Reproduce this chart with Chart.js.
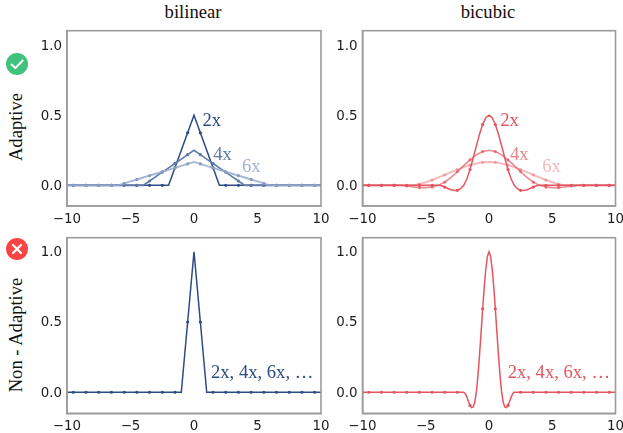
<!DOCTYPE html>
<html><head><meta charset="utf-8">
<script src="https://cdn.jsdelivr.net/npm/chart.js@4"></script>
<style>
html,body{margin:0;padding:0;background:#fff;}
#stage{position:relative;width:623px;height:433px;overflow:hidden;}
canvas{position:absolute;display:block;}
.t{position:absolute;font-family:"Liberation Serif",serif;font-size:18.6px;color:#111;white-space:nowrap;line-height:1;}
.r{transform:translate(-50%,-50%) rotate(-90deg);}
.c{transform:translate(-50%,-50%);}
svg{position:absolute;}
</style></head><body>
<div id="stage">
<div class="t c" style="left:193px;top:12px">bilinear</div>
<div class="t c" style="left:488px;top:12px">bicubic</div>
<div class="t r" style="left:16px;top:127px">Adaptive</div>
<div class="t r" style="left:16px;top:335px">Non - Adaptive</div>
<svg style="left:5px;top:52px" width="24" height="24" viewBox="0 0 24 24"><circle cx="12" cy="12" r="11" fill="#3EC27C"/><path d="M6.5 12.5l3.8 3.6 7.4-7.6" fill="none" stroke="#fff" stroke-width="2" stroke-linecap="round" stroke-linejoin="round"/></svg>
<svg style="left:5px;top:237px" width="24" height="24" viewBox="0 0 24 24"><circle cx="12" cy="12" r="11" fill="#FB4444"/><path d="M8 8l8 8M16 8l-8 8" fill="none" stroke="#fff" stroke-width="2.2" stroke-linecap="round"/></svg>
</div>
<script>
const xHalf = [-10,-9.5,-9,-8.5,-8,-7.5,-7,-6.5,-6,-5.5,-5,-4.5,-4,-3.5,-3,-2.5,-2,-1.5,-1,-0.5,0,0.5,1,1.5,2,2.5,3,3.5,4,4.5,5,5.5,6,6.5,7,7.5,8,8.5,9,9.5,10];
const bilinear2x = [0,0,0,0,0,0,0,0,0,0,0,0,0,0,0,0,0,0.125,0.25,0.375,0.5,0.375,0.25,0.125,0,0,0,0,0,0,0,0,0,0,0,0,0,0,0,0,0];
const bilinear4x = [0,0,0,0,0,0,0,0,0,0,0,0,0,0.031,0.0625,0.094,0.125,0.156,0.1875,0.219,0.25,0.219,0.1875,0.156,0.125,0.094,0.0625,0.031,0,0,0,0,0,0,0,0,0,0,0,0,0];
const bilinear6x = [0,0,0,0,0,0,0,0,0,0.014,0.028,0.042,0.056,0.069,0.083,0.097,0.111,0.125,0.139,0.153,0.167,0.153,0.139,0.125,0.111,0.097,0.083,0.069,0.056,0.042,0.028,0.014,0,0,0,0,0,0,0,0,0];
const bilinearNon = [0,0,0,0,0,0,0,0,0,0,0,0,0,0,0,0,0,0,0,0.5,1,0.5,0,0,0,0,0,0,0,0,0,0,0,0,0,0,0,0,0,0,0];
const xBicubic2x = [-10,-9.5,-9,-8.5,-8,-7.5,-7,-6.5,-6,-5.5,-5,-4.5,-4,-3.75,-3.5,-3.25,-3,-2.75,-2.5,-2.25,-2,-1.75,-1.5,-1.25,-1,-0.75,-0.5,-0.25,0,0.25,0.5,0.75,1,1.25,1.5,1.75,2,2.25,2.5,2.75,3,3.25,3.5,3.75,4,4.5,5,5.5,6,6.5,7,7.5,8,8.5,9,9.5,10];
const bicubic2x = [0,0,0,0,0,0,0,0,0,0,0,0,0,-0.003,-0.012,-0.022,-0.031,-0.036,-0.035,-0.024,0,0.045,0.113,0.195,0.281,0.364,0.434,0.482,0.5,0.482,0.434,0.364,0.281,0.195,0.113,0.045,0,-0.024,-0.035,-0.036,-0.031,-0.022,-0.012,-0.003,0,0,0,0,0,0,0,0,0,0,0,0,0];
const bicubic4x = [0,0,0,0,0,0,0,-0.004,-0.012,-0.016,-0.016,-0.012,0,0.023,0.057,0.097,0.141,0.182,0.217,0.241,0.25,0.241,0.217,0.182,0.141,0.097,0.057,0.023,0,-0.012,-0.016,-0.016,-0.012,-0.004,0,0,0,0,0,0,0];
const bicubic6x = [0,0,0,0,0,0,0,0,0,0.009,0.022,0.038,0.056,0.0745,0.094,0.112,0.130,0.1445,0.156,0.164,0.167,0.164,0.156,0.1445,0.130,0.112,0.094,0.0745,0.056,0.038,0.022,0.009,0,0,0,0,0,0,0,0,0];
const xBicubicNon = [-10,-9.5,-9,-8.5,-8,-7.5,-7,-6.5,-6,-5.5,-5,-4.5,-4,-3.5,-3,-2.5,-2,-1.875,-1.75,-1.625,-1.5,-1.375,-1.25,-1.125,-1,-0.875,-0.75,-0.625,-0.5,-0.375,-0.25,-0.125,0,0.125,0.25,0.375,0.5,0.625,0.75,0.875,1,1.125,1.25,1.375,1.5,1.625,1.75,1.875,2,2.5,3,3.5,4,4.5,5,5.5,6,6.5,7,7.5,8,8.5,9,9.5,10];
const bicubicNon = [0,0,0,0,0,0,0,0,0,0,0,0,0,0,0,0,0,-0.010,-0.035,-0.066,-0.094,-0.110,-0.105,-0.072,0,0.115,0.262,0.426,0.594,0.7495,0.879,0.967,1,0.967,0.879,0.7495,0.594,0.426,0.262,0.115,0,-0.072,-0.105,-0.110,-0.094,-0.066,-0.035,-0.010,0,0,0,0,0,0,0,0,0,0,0,0,0,0,0,0,0];
const xTicks = [-10,-5,0,5,10];
const yTicks = [0,0.5,1];
const BLUE='#2B4C84', BLUE4='#5F7BA8', BLUE6='rgba(150,170,204,0.85)', RED='#E4555F', RED4='rgba(228,85,95,0.7)', RED6='rgba(228,85,95,0.4)';

function pts(xs,ys){return xs.map((x,i)=>({x,y:ys[i]}));}
function ds(xs,ys,col,w,order,mark){
  return {data:pts(xs,ys),borderColor:col,backgroundColor:mark||col,borderWidth:w,tension:0,fill:false,order,
    pointBorderWidth:0,pointHoverRadius:0,
    pointRadius:ctx=>Math.abs(ctx.raw.x%1)===0.5?1.6:0};
}
const labelPlugin={id:'inlineLabels',afterDatasetsDraw(chart,_a,o){
  const g=chart.ctx;g.save();g.font='18.6px "Liberation Serif", serif';g.textAlign='left';g.textBaseline='alphabetic';
  (o.items||[]).forEach(it=>{g.fillStyle=it.color;g.fillText(it.text,chart.scales.x.getPixelForValue(it.x),chart.scales.y.getPixelForValue(it.y));});
  g.restore();}};
const framePlugin={id:'frame',afterDraw(c){const a=c.chartArea,g=c.ctx;g.save();g.strokeStyle='#9c9c9c';g.lineWidth=1.6;g.strokeRect(a.left,a.top,a.right-a.left,a.bottom-a.top);g.restore();}};
const YW=28,XH=20;
function noPad(a){a.paddingLeft=a.paddingRight=a.paddingTop=a.paddingBottom=0;}
function nudge(a){ if(a._nudged) return; a._nudged=true; const f=a._computeLabelItems.bind(a);
  a._computeLabelItems=ca=>f(ca).map(i=>{i.textOffset=(i.textOffset||0)+1;return i;}); }
function panel(cfg){
  const cv=document.createElement('canvas');
  const W=cfg.w,H=cfg.h;
  cv.width=W;cv.height=H;cv.style.left=cfg.cx+'px';cv.style.top=cfg.cy+'px';cv.style.width=W+'px';cv.style.height=H+'px';
  document.getElementById('stage').appendChild(cv);
  new Chart(cv,{type:'line',data:{datasets:cfg.sets},plugins:[labelPlugin,framePlugin],options:{
    responsive:false,animation:false,devicePixelRatio:1,parsing:false,
    layout:{padding:{left:cfg.L-cfg.cx-YW,top:cfg.T-cfg.cy,right:cfg.cx+W-cfg.R,bottom:cfg.cy+H-cfg.B-XH}},
    plugins:{legend:{display:false},tooltip:{enabled:false},title:{display:false},inlineLabels:{items:cfg.labels}},
    scales:{
      x:{type:'linear',min:-10,max:10,afterBuildTicks(a){a.ticks=xTicks.map(v=>({value:v}));},afterFit(a){a.height=XH;noPad(a);},
        border:{display:true,color:'#9c9c9c',width:1.6},
        grid:{display:false,drawTicks:true,tickLength:4,tickColor:'#333'},
        ticks:{maxRotation:0,autoSkip:false,padding:1,color:'#1c1c1c',font:{family:'"DejaVu Sans"',size:13.4},callback:v=>String(v).replace('-','\u2212')}},
      y:{type:'linear',min:cfg.ymin,max:cfg.ymax,afterBuildTicks(a){nudge(a);a.ticks=yTicks.map(v=>({value:v}));},afterFit(a){a.width=YW;noPad(a);},
        border:{display:true,color:'#9c9c9c',width:1.6},
        grid:{display:false,drawTicks:true,tickLength:4,tickColor:'#333'},
        ticks:{autoSkip:false,padding:1,color:'#1c1c1c',font:{family:'"DejaVu Sans"',size:13.4},callback:v=>v.toFixed(1)}}
    }}
  });
}
const leftCol={cx:0,w:333,L:67,R:321}, rightCol={cx:333,w:290,L:362.5,R:615.5};
const topRow={cy:24,h:201,T:30.7,B:206,ymin:-0.147,ymax:1.102}, botRow={cy:231,h:202,T:237.7,B:413.3,ymin:-0.15,ymax:1.10};
panel({...leftCol,...topRow,sets:[ds(xHalf,bilinear2x,BLUE,1.5,3),ds(xHalf,bilinear4x,BLUE4,1.6,2),ds(xHalf,bilinear6x,BLUE6,1.9,1,'#8A9EC0')],
  labels:[{text:'2x',x:0.66,y:0.42,color:BLUE},{text:'4x',x:1.52,y:0.18,color:BLUE4},{text:'6x',x:3.77,y:0.093,color:'#A3B4D0'}]});
panel({...rightCol,...topRow,sets:[ds(xBicubic2x,bicubic2x,RED,1.5,3),ds(xHalf,bicubic4x,RED4,1.6,2),ds(xHalf,bicubic6x,RED6,2,1)],
  labels:[{text:'2x',x:0.89,y:0.42,color:RED},{text:'4x',x:1.66,y:0.18,color:'#EC868D'},{text:'6x',x:4.2,y:0.093,color:'#F4B9BD'}]});
panel({...leftCol,...botRow,sets:[ds(xHalf,bilinearNon,BLUE,1.5,1)],labels:[{text:'2x, 4x, 6x, \u2026',x:1.34,y:0.102,color:BLUE}]});
panel({...rightCol,...botRow,sets:[ds(xBicubicNon,bicubicNon,RED,1.5,1)],labels:[{text:'2x, 4x, 6x, \u2026',x:1.48,y:0.102,color:RED}]});
</script>
</body></html>
